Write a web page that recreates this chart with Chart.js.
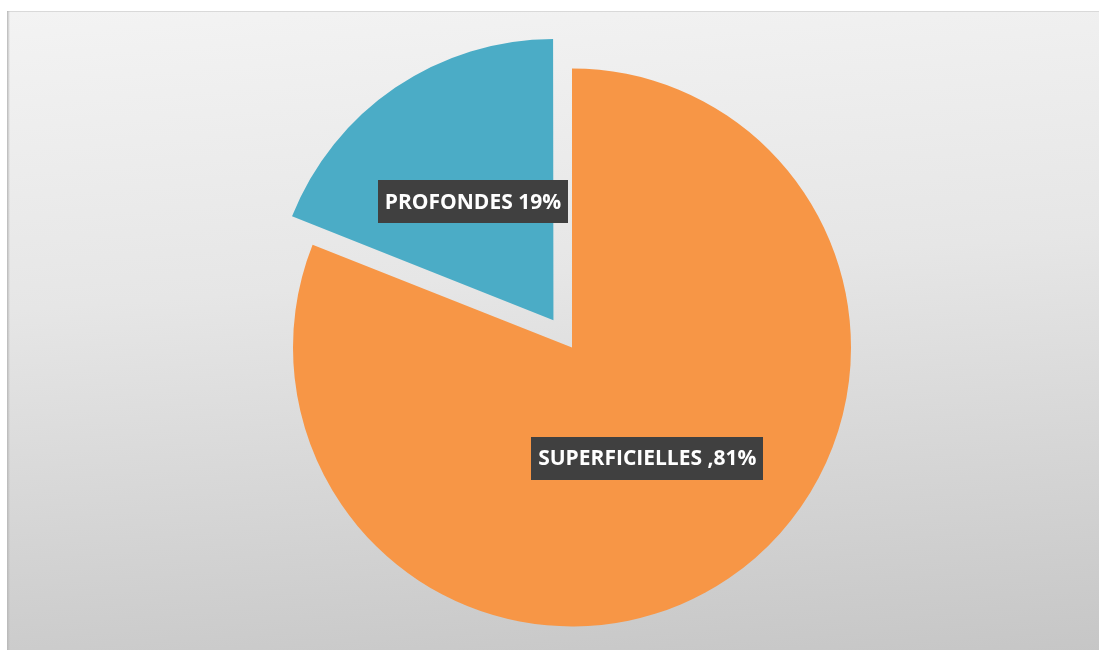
<!DOCTYPE html>
<html>
<head>
<meta charset="utf-8">
<script src="https://cdn.jsdelivr.net/npm/chart.js@4.4.0/dist/chart.umd.min.js"></script>
<style>
  html, body { margin: 0; padding: 0; background: #fff; overflow: hidden; }
  #wrap { position: relative; width: 1099px; height: 650px; overflow: hidden; }
  #frame {
    position: absolute; left: 7px; top: 11px; width: 1200px; height: 700px;
    background: linear-gradient(176deg, #f3f3f3 0%, #e6e6e6 38%, #d4d4d4 68%, #c4c4c4 95%);
    border-top: 1px solid #d9d9d9;
  }
  #edge {
    position: absolute; left: 7px; top: 11px; width: 3px; bottom: 0;
    background: linear-gradient(90deg, #b8b8b8, rgba(190, 190, 190, 0));
  }
  #myChart { position: absolute; left: 0; top: 0; }
</style>
</head>
<body>
<div id="wrap">
  <div id="frame"></div>
  <div id="edge"></div>
  <canvas id="myChart" width="1099" height="650"></canvas>
</div>
<script>
var categories = ['SUPERFICIELLES', 'PROFONDES'];
var values = [81, 19];
var separators = [' ,', ' '];
var colors = ['#f79646', '#4bacc6'];
var offsets = [0, 132];

// dark boxes with the category and share, placed on each slice's bisector
var sliceLabels = {
    id: 'sliceLabels',
    afterDatasetsDraw: function (chart) {
        var ctx = chart.ctx;
        var meta = chart.getDatasetMeta(0);
        ctx.save();
        ctx.font = 'bold 21px "Open Sans"';
        ctx.textAlign = 'center';
        ctx.textBaseline = 'middle';
        meta.data.forEach(function (arc, i) {
            var p = arc.getProps(['x', 'y', 'startAngle', 'endAngle', 'outerRadius', 'circumference'], true);
            var mid = (p.startAngle + p.endAngle) / 2;
            // same shift the arc element applies for its offset
            var off = offsets[i] / 4;
            off += off * 4 * (1 - Math.sin(Math.min(Math.PI, p.circumference)));
            var r = p.outerRadius * 0.48 + off;
            var x = p.x + Math.cos(mid) * r;
            var y = p.y + Math.sin(mid) * r;
            var text = categories[i] + separators[i] + values[i] + '%';
            var w = ctx.measureText(text).width + 14;
            var h = 43;
            ctx.fillStyle = '#404040';
            ctx.fillRect(Math.round(x - w / 2), Math.round(y - h / 2), Math.round(w), h);
            ctx.fillStyle = '#ffffff';
            ctx.fillText(text, x, y + 1);
        });
        ctx.restore();
    }
};

var testChart = new Chart('myChart', {
    type: 'pie',
    data: {
        labels: categories,
        datasets: [{
            data: values,
            backgroundColor: colors,
            borderWidth: 0,
            offset: offsets
        }]
    },
    options: {
        responsive: false,
        animation: false,
        radius: 279,
        layout: {
            padding: { left: 45, top: 45 }
        },
        plugins: {
            legend: { display: false },
            tooltip: { enabled: false }
        }
    },
    plugins: [sliceLabels]
});
</script>
</body>
</html>
